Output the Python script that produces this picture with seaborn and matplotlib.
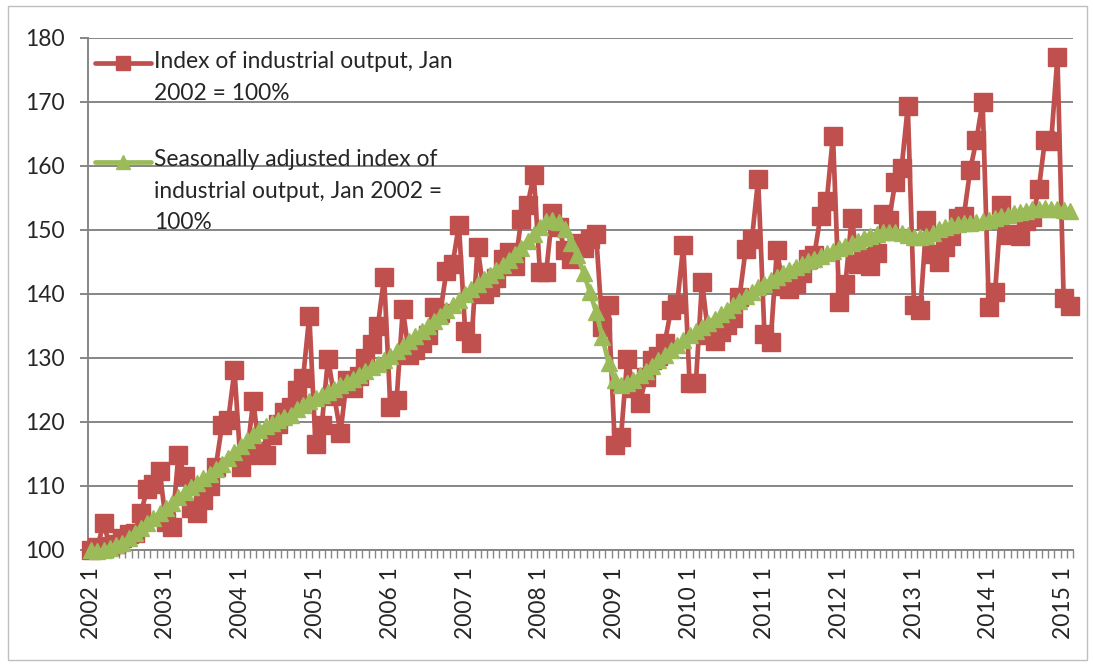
import numpy as np
import pandas as pd
import matplotlib
matplotlib.use("Agg")
import matplotlib.pyplot as plt
from matplotlib.patches import Rectangle
import seaborn as sns

# ---- data: monthly index, Jan 2002 .. Feb 2015 (Jan 2002 = 100) ----
industrial_output = [
    100.0, 100.4, 104.2, 100.6, 100.9, 101.8, 102.5, 102.7, 105.8, 109.6, 110.3, 112.4,  # 2002
    104.3, 103.6, 114.8, 111.6, 106.5, 105.8, 107.8, 110.0, 113.0, 119.5, 120.3, 128.1,  # 2003
    113.0, 114.8, 123.3, 115.5, 114.8, 118.0, 119.6, 121.5, 122.3, 125.0, 126.8, 136.6,  # 2004
    116.6, 119.5, 129.9, 124.0, 118.3, 126.5, 125.3, 127.2, 130.0, 132.2, 135.0, 142.6,  # 2005
    122.3, 123.4, 137.6, 130.5, 131.3, 132.4, 133.6, 138.0, 137.0, 143.6, 144.7, 150.8,  # 2006
    134.2, 132.4, 147.3, 140.0, 141.0, 142.5, 145.5, 146.6, 144.3, 151.7, 153.8, 158.6,  # 2007
    143.4, 143.4, 152.7, 150.5, 146.8, 145.5, 148.0, 147.2, 148.6, 149.3, 134.8, 138.2,  # 2008
    116.4, 117.7, 129.9, 125.3, 122.9, 127.0, 129.6, 130.3, 132.3, 137.4, 138.4, 147.6,  # 2009
    126.0, 126.0, 141.9, 133.5, 132.7, 134.0, 135.2, 136.2, 139.5, 147.0, 148.6, 157.9,  # 2010
    133.8, 132.5, 146.8, 141.2, 140.8, 141.5, 143.3, 145.5, 146.0, 152.2, 154.5, 164.7,  # 2011
    138.7, 141.6, 151.9, 144.7, 145.8, 144.3, 146.3, 152.4, 151.6, 157.5, 159.6, 169.3,  # 2012
    138.2, 137.4, 151.5, 146.2, 145.0, 147.3, 149.0, 151.8, 152.2, 159.3, 164.0, 170.0,  # 2013
    138.0, 140.3, 153.8, 149.2, 149.4, 149.1, 151.3, 152.0, 156.3, 164.0, 163.8, 177.0,  # 2014
    139.3, 138.1,                                                                        # 2015
]

seasonally_adjusted = [
    100.0, 99.8, 100.0, 100.3, 100.8, 101.1, 101.8, 102.6, 103.4, 104.2, 105.0, 105.8,  # 2002
    106.6, 107.4, 108.2, 109.0, 109.8, 110.5, 111.2, 111.9, 112.7, 113.5, 114.4, 115.3,  # 2003
    116.2, 117.1, 118.0, 118.8, 119.4, 119.9, 120.3, 120.7, 121.1, 122.0, 122.6, 123.2,  # 2004
    123.7, 124.2, 124.7, 125.2, 125.7, 126.2, 126.7, 127.3, 127.9, 128.5, 129.1, 129.7,  # 2005
    130.3, 131.0, 131.8, 132.6, 133.4, 134.2, 135.0, 135.8, 136.6, 137.4, 138.2, 139.0,  # 2006
    139.9, 140.8, 141.6, 142.3, 143.0, 143.7, 144.5, 145.3, 146.2, 147.2, 148.3, 149.4,  # 2007
    150.4, 151.3, 151.6, 151.2, 150.1, 148.0, 146.0, 143.3, 140.3, 137.2, 133.3, 129.2,  # 2008
    126.5, 125.8, 126.0, 126.6, 127.3, 128.0, 128.8, 129.6, 130.4, 131.2, 132.0, 132.8,  # 2009
    133.5, 134.2, 134.8, 135.5, 136.1, 136.8, 137.5, 138.2, 138.9, 139.6, 140.3, 141.0,  # 2010
    141.6, 142.1, 142.7, 143.2, 143.7, 144.2, 144.7, 145.1, 145.5, 145.9, 146.3, 146.7,  # 2011
    147.1, 147.5, 147.9, 148.3, 148.7, 149.1, 149.4, 149.6, 149.7, 149.7, 149.5, 149.2,  # 2012
    148.9, 148.8, 149.0, 149.5, 150.1, 150.5, 150.8, 150.9, 151.0, 151.1, 151.2, 151.3,  # 2013
    151.5, 151.8, 152.1, 152.3, 152.6, 152.8, 153.0, 153.2, 153.3, 153.4, 153.3, 153.2,  # 2014
    153.1, 153.0,                                                                        # 2015
]

years = list(range(2002, 2016))
tick_labels = [f"{y} 1" for y in years]
label_red = "Index of industrial output, Jan\n2002 = 100%"
label_green = "Seasonally adjusted index of\nindustrial output, Jan 2002 =\n100%"

RED = "#C0504D"
GREEN = "#9BBB59"
GRID = "#868686"
FS = 16.4

df = pd.DataFrame({
    "month": np.arange(len(industrial_output)),
    "raw": industrial_output,
    "sa": seasonally_adjusted,
})

sns.set_style("white")
plt.rcParams["font.family"] = ["Lato", "DejaVu Sans"]

fig = plt.figure(figsize=(10.93, 6.66), dpi=100)
ax = fig.add_axes([0.0805, 0.1742, 0.9012, 0.7692])

sns.lineplot(data=df, x="month", y="raw", ax=ax, color=RED, lw=3.4,
             marker="s", markersize=12.5, markeredgecolor=RED,
             markeredgewidth=1, label=label_red, clip_on=False, zorder=3)
sns.lineplot(data=df, x="month", y="sa", ax=ax, color=GREEN, lw=3.4,
             marker="^", markersize=11, markeredgecolor=GREEN,
             markeredgewidth=1, label=label_green, clip_on=False, zorder=4)

# axes, grid
ax.set_xlim(-0.5, len(industrial_output) - 0.5)
ax.set_ylim(100, 180)
ax.set_yticks(range(100, 181, 10))
ax.yaxis.grid(True, color=GRID, lw=1.4)
ax.set_axisbelow(True)
for s in ["top", "right"]:
    ax.spines[s].set_visible(False)
for s in ["left", "bottom"]:
    ax.spines[s].set_color(GRID)
    ax.spines[s].set_linewidth(1.4)

ax.set_xticks(np.arange(0, len(industrial_output), 12))
ax.set_xticklabels(tick_labels, rotation=90)
ax.set_xticks(np.arange(-0.5, len(industrial_output), 1), minor=True)
ax.tick_params(axis="x", which="major", length=0, pad=12, labelsize=FS)
ax.tick_params(axis="x", which="minor", length=6, width=1, color=GRID,
               direction="out", bottom=True)
ax.tick_params(axis="y", length=6, width=1.4, color=GRID, direction="out",
               pad=11, labelsize=FS, left=True)
ax.set_xlabel("")
ax.set_ylabel("")

# legend, handle aligned with the first text line like Excel
leg = ax.legend(loc="upper left", bbox_to_anchor=(0.007, 0.974), frameon=False,
                fontsize=FS, handlelength=2.45, handletextpad=0.13,
                labelspacing=2.0, borderpad=0, borderaxespad=0)
for t in leg.get_texts():
    t.set_linespacing(1.62)
for h, shift in zip(leg.legend_handles, [10.8, 21.6]):
    h.set_ydata(np.asarray(h.get_ydata()) + shift)
    h.set_markersize(10)

# light chart-area border
fig.patches.append(Rectangle((8 / 1093, 1 - 660 / 666), 1079 / 1093, 654 / 666,
                             transform=fig.transFigure, fill=False,
                             ec="#bfbfbf", lw=1))

fig.savefig("out.png", dpi=100)
